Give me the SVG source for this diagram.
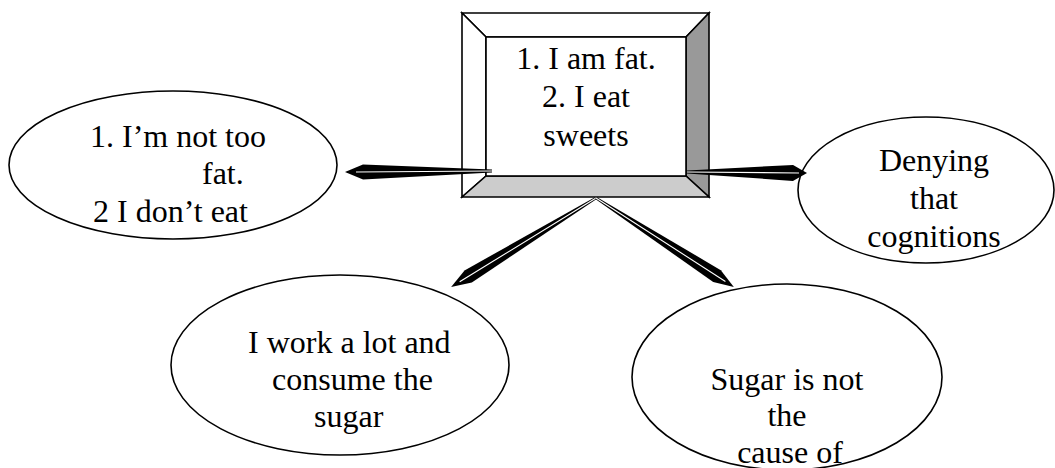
<svg xmlns="http://www.w3.org/2000/svg" width="1055" height="468" viewBox="0 0 1055 468">
<style>
.bg{fill:#ffffff}
.ell{fill:#ffffff;stroke:#000000;stroke-width:1.6}
.bev{stroke:#000000;stroke-width:1.6;stroke-linejoin:miter}
.t{font-family:"Liberation Serif","Times New Roman",serif;font-size:32px;fill:#000000}
.c{text-anchor:middle}
.dart{fill:#000000}
.core{stroke:#ffffff;stroke-width:1.1;fill:none}
</style>
<rect class="bg" x="0" y="0" width="1055" height="468"/>
<g id="node-center">
  <polygon class="bev" fill="#ffffff" points="462,13 709,13 686,37 486,37"/>
  <polygon class="bev" fill="#ffffff" points="462,13 486,37 486,176 462,197"/>
  <polygon class="bev" fill="#999999" points="709,13 709,197 686,176 686,37"/>
  <polygon class="bev" fill="#cccccc" points="462,197 486,176 686,176 709,197"/>
  <rect class="bev" fill="#ffffff" x="486" y="37" width="200" height="139"/>
  <text class="t c" x="586" y="69">1. I am fat.</text>
  <text class="t c" x="586" y="107">2. I eat</text>
  <text class="t c" x="586" y="146">sweets</text>
</g>
<g id="node-left">
  <ellipse class="ell" cx="173" cy="165" rx="164" ry="74"/>
  <text class="t" x="90" y="147">1. I’m not too</text>
  <text class="t" x="202" y="184">fat.</text>
  <text class="t" x="93" y="222">2 I don’t eat</text>
</g>
<g id="node-right">
  <ellipse class="ell" cx="926" cy="190" rx="128" ry="73"/>
  <text class="t c" x="934" y="171">Denying</text>
  <text class="t c" x="934" y="209">that</text>
  <text class="t c" x="934" y="247">cognitions</text>
</g>
<g id="node-bottom-left">
  <ellipse class="ell" cx="340" cy="365" rx="169" ry="90"/>
  <text class="t" x="248" y="353">I work a lot and</text>
  <text class="t" x="272" y="390">consume the</text>
  <text class="t" x="314" y="427">sugar</text>
</g>
<g id="node-bottom-right">
  <ellipse class="ell" cx="787" cy="377" rx="155" ry="93"/>
  <text class="t c" x="787" y="390">Sugar is not</text>
  <text class="t c" x="787" y="426">the</text>
  <text class="t c" x="790" y="463">cause of</text>
</g>
<g id="connectors">
  <g transform="translate(492 171) rotate(179.6)">
    <polygon class="dart" points="0,-1.4 129,-7.5 147,0 129,7.5 0,1.4"/>
    <line class="core" x1="0" y1="0" x2="136" y2="0"/>
  </g>
  <g transform="translate(687 172) rotate(0.5)">
    <polygon class="dart" points="0,-1.4 106,-8 120,0 106,8 0,1.4"/>
    <line class="core" x1="0" y1="0" x2="112" y2="0"/>
  </g>
  <g transform="translate(596 198) rotate(148.45)">
    <polygon class="dart" points="0,-1.3 150,-7 170,0 150,7 0,1.3"/>
    <line class="core" x1="0" y1="0" x2="160" y2="0"/>
  </g>
  <g transform="translate(596 198) rotate(32.82)">
    <polygon class="dart" points="0,-1.3 144,-7 164,0 144,7 0,1.3"/>
    <line class="core" x1="0" y1="0" x2="154" y2="0"/>
  </g>
</g>
</svg>
